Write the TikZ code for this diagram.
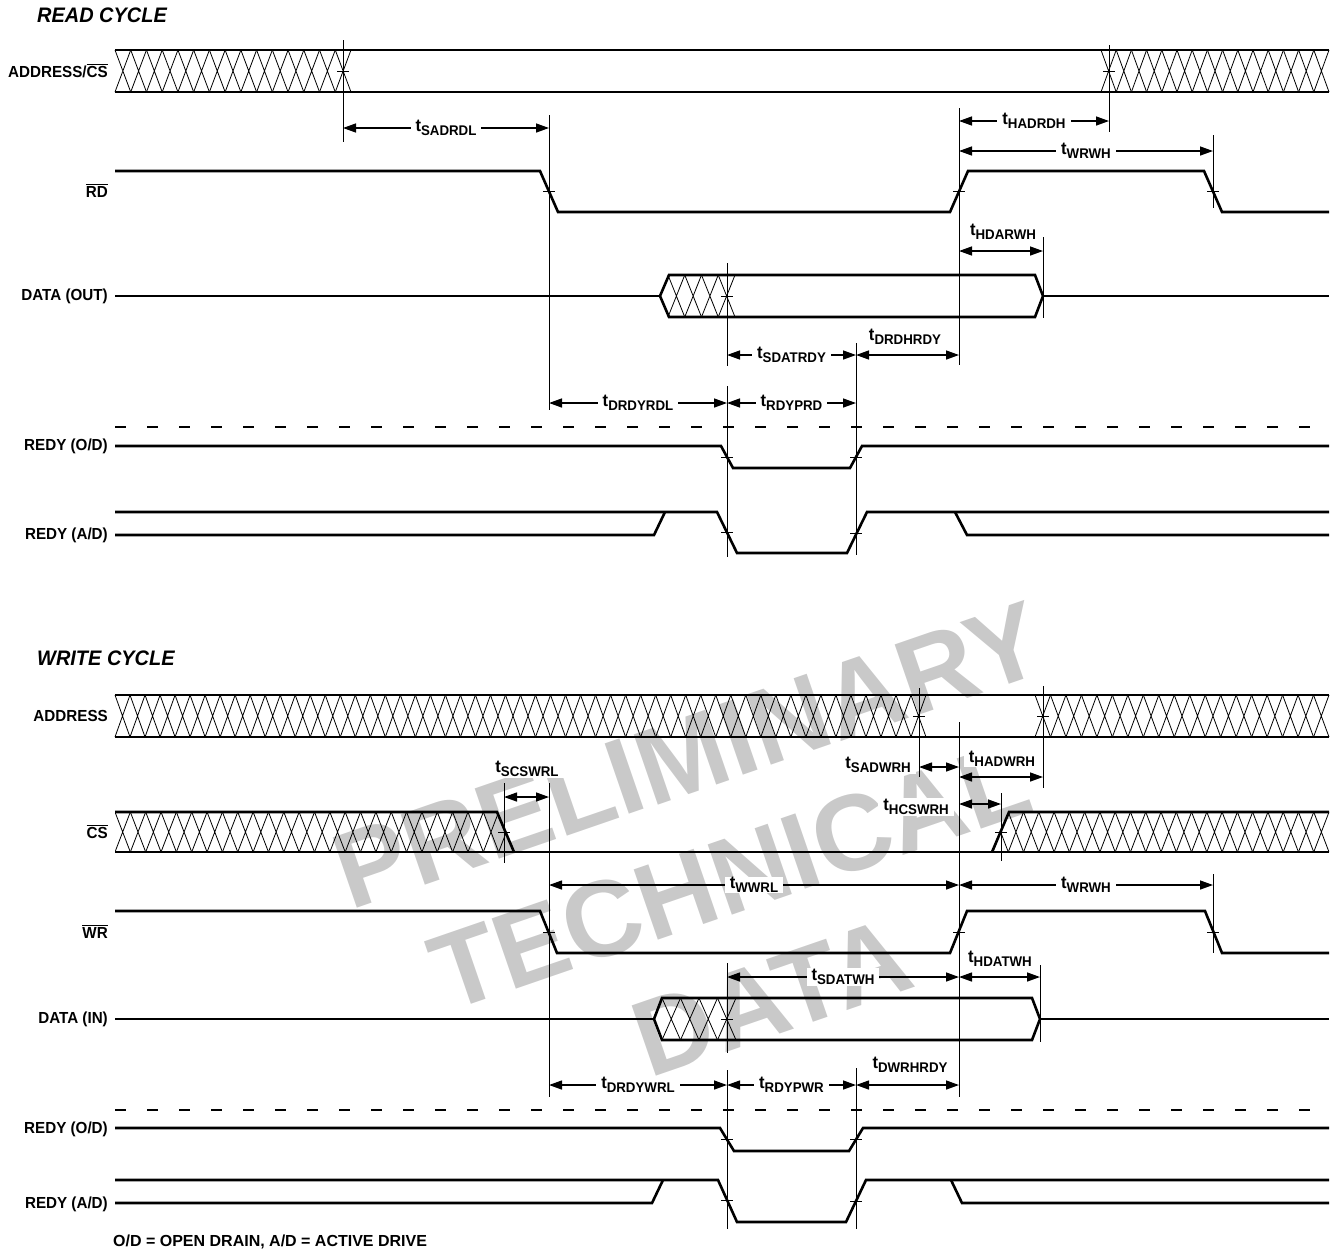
\documentclass[tikz,border=0pt]{standalone}
\usepackage{fontspec}
\setmainfont{Liberation Sans}[FakeStretch=0.95]
\newfontfamily\wmfont{Liberation Sans}
\usetikzlibrary{arrows.meta}
\newsavebox\ovlbox
% overbar for active-low signal names
\newcommand{\ovl}[1]{\sbox\ovlbox{#1}\rlap{\rule[\dimexpr\ht\ovlbox+1.6pt\relax]{\wd\ovlbox}{1.1pt}}\usebox\ovlbox}
% timing parameter label t_XXX
\newcommand{\tsub}[1]{{\fontsize{17.5}{17.5}\selectfont t}\raisebox{-3.5pt}{\fontsize{14}{14}\selectfont #1}}
% crossed (don't care) bus fill: x0, x1, top, bottom, cells
\newcommand{\hatch}[5]{%
  \pgfmathsetmacro\hw{(#2-#1)/#5}
  \foreach \k in {1,...,#5}{
    \draw[hatchline] ({#1+(\k-1)*\hw},#3) -- ({#1+\k*\hw},#4)
                     ({#1+\k*\hw},#3) -- ({#1+(\k-1)*\hw},#4);}}
% crossing marker
\newcommand{\tk}[2]{\draw[tickln] (#1,#2) ++(-6,0) -- ++(12,0);}

\begin{document}
\begin{tikzpicture}[
        x=1pt, y=-1pt,
        sig/.style={line width=2.6pt, line join=miter},
        guide/.style={line width=0.8pt},
        hatchline/.style={line width=0.8pt},
        tickln/.style={line width=0.8pt},
        dashline/.style={line width=1.4pt, dash pattern=on 11pt off 21pt},
        dim/.style={line width=1.4pt, <->, >={Triangle[length=13pt,width=9pt]}},
        lbl/.style={fill=white, inner xsep=5pt, inner ysep=1pt, font=\bfseries},
        sname/.style={anchor=east, inner sep=0pt, font=\bfseries\fontsize{16}{16}\selectfont},
        ttl/.style={anchor=west, inner sep=0pt, font=\bfseries\itshape\fontsize{21}{21}\selectfont},
        wm/.style={rotate=19, text=black!21, align=center, font=\wmfont\bfseries\fontsize{108}{128}\selectfont}
    ]
    \useasboundingbox (0,0) rectangle (1335,1251);

    % watermark
    \node[wm] (wmark) at (730,876) {PRELIMINARY\\TECHNICAL\\DATA};

    % ---------------- read cycle ----------------
    \node[ttl] (readTitle) at (37,15) {READ CYCLE};
    \node[sname] (nAddrCs) at (108,71) {ADDRESS/\ovl{CS}};
    \node[sname] (nRd) at (108,191) {\ovl{RD}};
    \node[sname] (nDataOut) at (108,296) {DATA (OUT)};
    \node[sname] (nRedyOdR) at (108,446) {REDY (O/D)};
    \node[sname] (nRedyAdR) at (108,535) {REDY (A/D)};

    % address / cs bus
    \draw[sig] (115,50) -- (1329,50) (115,92) -- (1329,92);
    \hatch{115}{351}{50}{92}{15}
    \hatch{1101}{1329}{50}{92}{15}
    \tk{343}{71} \tk{1109}{71}

    % rd
    \draw[sig] (115,171) -- (540,171) -- (558,212) -- (950,212) -- (968,171)
        -- (1204,171) -- (1222,212) -- (1329,212);
    \tk{549}{191.5} \tk{959}{191.5} \tk{1213}{191.5}

    % data out
    \draw[sig] (115,296) -- (660,296) (1043,296) -- (1329,296);
    \draw[sig] (660,296) -- (669,275) -- (1035,275) -- (1043,296) -- (1035,317) -- (669,317) -- cycle;
    \hatch{668}{735}{275}{317}{4}
    \tk{727}{296}

    % ready lines
    \draw[dashline] (115,427) -- (1316,427);
    \draw[sig] (115,446) -- (721,446) -- (733,468) -- (850,468) -- (862,446) -- (1329,446);
    \tk{727}{457} \tk{856}{457}
    \draw[sig] (115,512) -- (717,512) -- (737,553) -- (847,553) -- (867,512) -- (1329,512);
    \draw[sig] (115,535) -- (654,535) -- (665,512);
    \draw[sig] (955,512) -- (967,535) -- (1329,535);
    \tk{727}{532.5} \tk{856}{533.5}

    % guides
    \draw[guide] (343,40) -- (343,142);
    \draw[guide] (549,115) -- (549,410);
    \draw[guide] (959,108) -- (959,365);
    \draw[guide] (1109,45) -- (1109,132);
    \draw[guide] (1213,135) -- (1213,208);
    \draw[guide] (1043,237) -- (1043,318);
    \draw[guide] (727,263) -- (727,366) (727,386) -- (727,557);
    \draw[guide] (856,343) -- (856,555);

    % timing
    \draw[dim] (343,128) -- node[lbl] (tSadrdl) {\tsub{SADRDL}} (549,128);
    \draw[dim] (959,121) -- node[lbl] (tHadrdh) {\tsub{HADRDH}} (1109,121);
    \draw[dim] (959,151) -- node[lbl] (tWrwhR) {\tsub{WRWH}} (1213,151);
    \draw[dim] (959,251) -- (1043,251);
    \node[lbl] (tHdarwh) at (1003,232) {\tsub{HDARWH}};
    \draw[dim] (727,355) -- node[lbl] (tSdatrdy) {\tsub{SDATRDY}} (856,355);
    \draw[dim] (856,355) -- (959,355);
    \node[lbl] (tDrdhrdy) at (905,337) {\tsub{DRDHRDY}};
    \draw[dim] (549,403) -- node[lbl] (tDrdyrdl) {\tsub{DRDYRDL}} (727,403);
    \draw[dim] (727,403) -- node[lbl] (tRdyprd) {\tsub{RDYPRD}} (856,403);

    % ---------------- write cycle ----------------
    \node[ttl] (writeTitle) at (37,658) {WRITE CYCLE};
    \node[sname] (nAddr) at (108,716) {ADDRESS};
    \node[sname] (nCs) at (108,832) {\ovl{CS}};
    \node[sname] (nWr) at (108,932) {\ovl{WR}};
    \node[sname] (nDataIn) at (108,1019) {DATA (IN)};
    \node[sname] (nRedyOdW) at (108,1129) {REDY (O/D)};
    \node[sname] (nRedyAdW) at (108,1204) {REDY (A/D)};

    % address bus
    \draw[sig] (115,695) -- (1329,695) (115,737) -- (1329,737);
    \hatch{115}{926}{695}{737}{54}
    \hatch{1035}{1329}{695}{737}{19}
    \tk{919}{716} \tk{1043}{716}

    % cs
    \draw[sig] (115,852) -- (1329,852);
    \draw[sig] (115,812) -- (497,812) -- (514,852);
    \draw[sig] (992,852) -- (1009,812) -- (1329,812);
    \begin{scope}
        \clip (115,812) -- (497,812) -- (514,852) -- (115,852) -- cycle;
        \hatch{115}{514}{812}{852}{26}
    \end{scope}
    \begin{scope}
        \clip (992,852) -- (1009,812) -- (1329,812) -- (1329,852) -- cycle;
        \hatch{993}{1329}{812}{852}{22}
    \end{scope}
    \tk{504}{832} \tk{1001}{832}

    % wr
    \draw[sig] (115,911) -- (540,911) -- (557,953) -- (950,953) -- (967,911)
        -- (1205,911) -- (1222,953) -- (1329,953);
    \tk{549}{932} \tk{959}{932} \tk{1213}{932}

    % data in
    \draw[sig] (115,1019) -- (654,1019) (1040,1019) -- (1329,1019);
    \draw[sig] (654,1019) -- (662,998) -- (1032,998) -- (1040,1019) -- (1032,1040) -- (662,1040) -- cycle;
    \hatch{662}{736}{998}{1040}{4}
    \tk{727}{1019}

    % ready lines
    \draw[dashline] (115,1110) -- (1316,1110);
    \draw[sig] (115,1128) -- (720,1128) -- (734,1151) -- (849,1151) -- (863,1128) -- (1329,1128);
    \tk{727}{1139.5} \tk{856}{1139.5}
    \draw[sig] (115,1180) -- (718,1180) -- (737,1222) -- (846,1222) -- (866,1180) -- (1329,1180);
    \draw[sig] (115,1203) -- (652,1203) -- (663,1180);
    \draw[sig] (951,1180) -- (962,1203) -- (1329,1203);
    \tk{727}{1200} \tk{856}{1201}

    % guides
    \draw[guide] (919,688) -- (919,777);
    \draw[guide] (1043,686) -- (1043,788);
    \draw[guide] (959,722) -- (959,1097);
    \draw[guide] (1001,793) -- (1001,861);
    \draw[guide] (504,783) -- (504,863);
    \draw[guide] (549,783) -- (549,1097);
    \draw[guide] (1213,874) -- (1213,953);
    \draw[guide] (1040,965) -- (1040,1042);
    \draw[guide] (727,963) -- (727,1053) (727,1070) -- (727,1229);
    \draw[guide] (856,1068) -- (856,1229);

    % timing
    \draw[dim] (504,797) -- (549,797);
    \node[lbl] (tScswrl) at (527,769) {\tsub{SCSWRL}};
    \draw[dim] (919,767) -- (959,767);
    \node[lbl, anchor=east] (tSadwrh) at (916,765) {\tsub{SADWRH}};
    \draw[dim] (959,777) -- (1043,777);
    \node[lbl] (tHadwrh) at (1002,759) {\tsub{HADWRH}};
    \draw[dim] (959,804) -- (1001,804);
    \node[lbl, anchor=east] (tHcswrh) at (954,807) {\tsub{HCSWRH}};
    \draw[dim] (549,885) -- node[lbl] (tWwrl) {\tsub{WWRL}} (959,885);
    \draw[dim] (959,885) -- node[lbl] (tWrwhW) {\tsub{WRWH}} (1213,885);
    \draw[dim] (727,977) -- node[lbl] (tSdatwh) {\tsub{SDATWH}} (959,977);
    \draw[dim] (959,977) -- (1040,977);
    \node[lbl] (tHdatwh) at (1000,959) {\tsub{HDATWH}};
    \draw[dim] (549,1085) -- node[lbl] (tDrdywrl) {\tsub{DRDYWRL}} (727,1085);
    \draw[dim] (727,1085) -- node[lbl] (tRdypwr) {\tsub{RDYPWR}} (856,1085);
    \draw[dim] (856,1085) -- (959,1085);
    \node[lbl] (tDwrhrdy) at (910,1065) {\tsub{DWRHRDY}};

    \node[anchor=west, inner sep=0pt, font=\wmfont\bfseries\fontsize{16}{16}\selectfont] (note)
        at (113,1242) {O/D = OPEN DRAIN, A/D = ACTIVE DRIVE};
\end{tikzpicture}
\end{document}
